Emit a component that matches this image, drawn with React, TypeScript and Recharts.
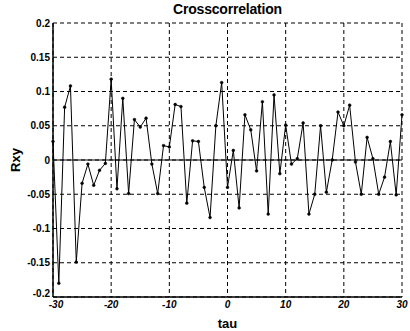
import React from 'react'
import { LineChart, Line, XAxis, YAxis, CartesianGrid, ReferenceLine } from 'recharts'

const taus = [
  -30, -29, -28, -27, -26, -25, -24, -23, -22, -21, -20, -19, -18, -17, -16, -15, -14, -13, -12, -11, -10,
  -9, -8, -7, -6, -5, -4, -3, -2, -1, 0, 1, 2, 3, 4, 5, 6, 7, 8, 9, 10,
  11, 12, 13, 14, 15, 16, 17, 18, 19, 20, 21, 22, 23, 24, 25, 26, 27, 28, 29, 30,
]

const rxy = [
  0.027, -0.18, 0.077, 0.108, -0.149, -0.034, -0.006, -0.037, -0.015, -0.005, 0.118,
  -0.042, 0.09, -0.049, 0.059, 0.048, 0.061, -0.006, -0.049, 0.021, 0.019,
  0.081, 0.078, -0.063, 0.028, 0.027, -0.04, -0.084, 0.05, 0.113, -0.04,
  0.014, -0.07, 0.066, 0.044, -0.016, 0.085, -0.079, 0.095, -0.02, 0.051,
  -0.006, 0.002, 0.054, -0.079, -0.05, 0.05, -0.047, 0, 0.07, 0.05,
  0.08, -0.003, -0.05, 0.033, 0.002, -0.05, -0.025, 0.027, -0.051, 0.066,
]

const xTicks = [-30, -20, -10, 0, 10, 20, 30]
const yTicks = [-0.2, -0.15, -0.1, -0.05, 0, 0.05, 0.1, 0.15, 0.2]

const data = taus.map((tau, i) => ({ tau, rxy: rxy[i] }))

const font = '"Liberation Sans", Arial, sans-serif'

// the bottom y label sits a little higher so it doesn't collide with -30
function YTick({ x, y, payload }: any) {
  const lift = payload.value === -0.2 ? -4 : 0
  return (
    <text x={x} y={y + lift} textAnchor="end" dominantBaseline="central" fill="#000" fontSize={10} fontWeight={700} fontFamily={font}>
      {String(payload.value)}
    </text>
  )
}

function XTick({ x, y, payload }: any) {
  const shift = payload.value === -30 ? 3 : 0
  return (
    <text x={x + shift} y={y + 2} textAnchor="middle" dominantBaseline="hanging" fill="#000" fontSize={10} fontWeight={700} fontStyle="italic" fontFamily={font}>
      {String(payload.value)}
    </text>
  )
}

export default function App() {
  return (
    <div style={{ position: 'absolute', left: 0, top: 0, width: 410, height: 331, background: '#fff', fontFamily: font }}>
      <div
        style={{
          position: 'absolute',
          left: 53,
          width: 349,
          top: 1,
          textAlign: 'center',
          fontSize: 14,
          fontWeight: 900,
          color: '#000',
          letterSpacing: -0.2,
        }}
      >
        Crosscorrelation
      </div>
      <LineChart width={410} height={331} data={data} margin={{ top: 23, right: 8, bottom: 0, left: 0 }}>
        <CartesianGrid stroke="#000" strokeDasharray="4 3" horizontalValues={yTicks} verticalValues={xTicks} />
        <XAxis
          dataKey="tau"
          type="number"
          domain={[-30, 30]}
          ticks={xTicks}
          height={34}
          stroke="#000"
          strokeWidth={1.5}
          tickLine={false}
          tickSize={0}
          tick={<XTick />}
          label={{ value: 'tau', position: 'insideBottom', offset: 3, fill: '#000', fontSize: 13, fontWeight: 900, fontFamily: font }}
        />
        <XAxis xAxisId="top" dataKey="tau" type="number" domain={[-30, 30]} orientation="top" height={0} tick={false} tickLine={false} stroke="#000" strokeWidth={1.5} />
        <YAxis
          type="number"
          domain={[-0.2, 0.2]}
          ticks={yTicks}
          width={53}
          stroke="#000"
          strokeWidth={1.5}
          tickLine={false}
          tickSize={0}
          tickMargin={3}
          tick={<YTick />}
          label={({ viewBox }: any) => (
            <text
              x={15}
              y={viewBox.y + viewBox.height / 2}
              transform={`rotate(-90 15 ${viewBox.y + viewBox.height / 2})`}
              textAnchor="middle"
              dominantBaseline="central"
              fill="#000"
              fontSize={13}
              fontWeight={900}
              fontFamily={font}
            >
              Rxy
            </text>
          )}
        />
        <YAxis yAxisId="right" orientation="right" domain={[-0.2, 0.2]} width={0} tick={false} tickLine={false} stroke="#000" strokeWidth={1.5} />
        <ReferenceLine y={0} stroke="#000" strokeWidth={1.2} />
        <Line
          dataKey="rxy"
          type="linear"
          stroke="#000"
          strokeWidth={1}
          dot={{ r: 1.4, fill: '#000', stroke: '#000', strokeWidth: 0.5 }}
          isAnimationActive={false}
        />
      </LineChart>
    </div>
  )
}
